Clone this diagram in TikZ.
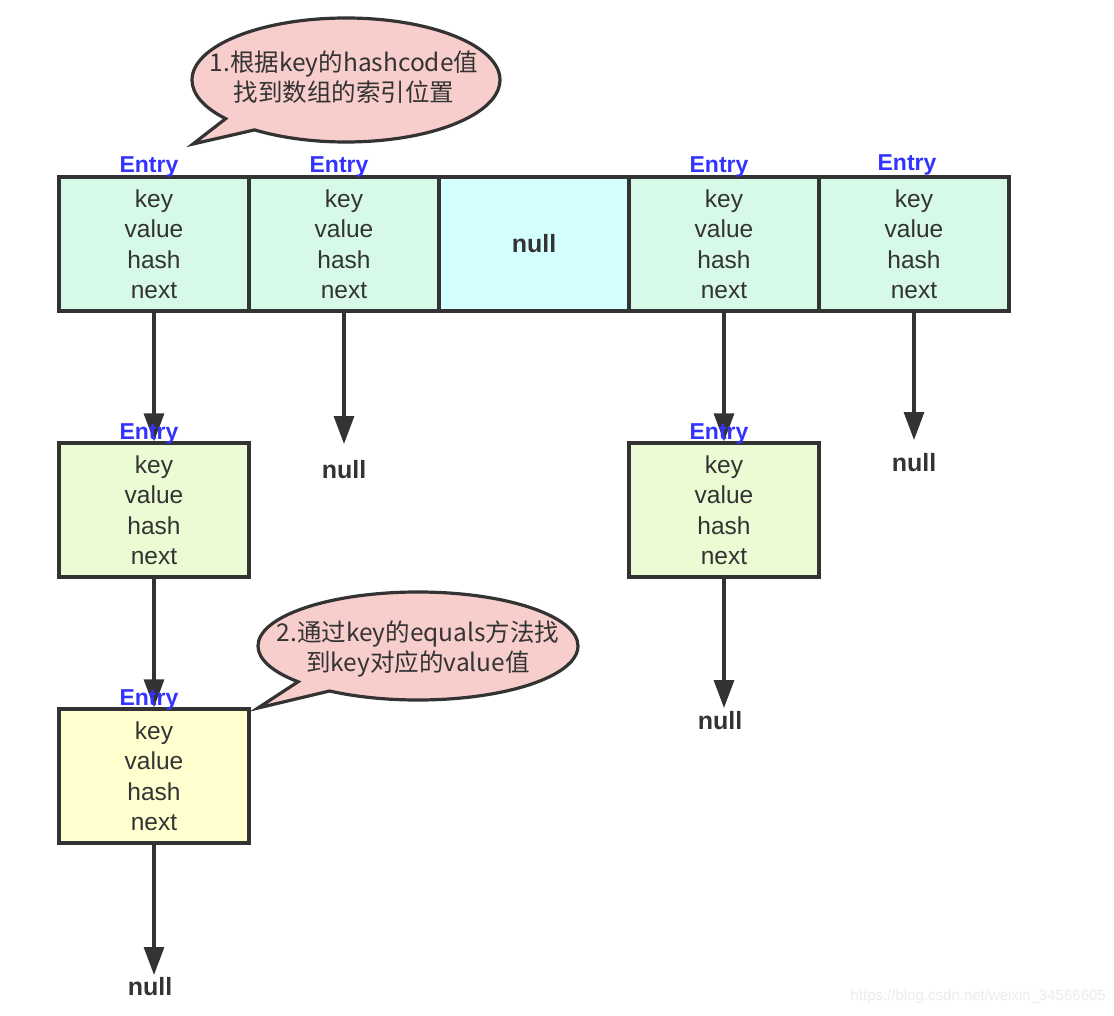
\documentclass[tikz,border=0pt]{standalone}
\usepackage{fontspec}
\setmainfont{Liberation Sans}
\newfontfamily\cjk{Noto Sans CJK SC}
\usepackage{tikz}
\usetikzlibrary{arrows.meta,shapes.callouts}

\definecolor{linegray}{HTML}{333333}
\definecolor{textgray}{HTML}{333333}
\definecolor{entryblue}{HTML}{3333FF}
\definecolor{mint}{HTML}{D6F9E8}
\definecolor{cyanish}{HTML}{D4FFFF}
\definecolor{lime}{HTML}{EBFCD4}
\definecolor{paleyellow}{HTML}{FFFFD0}
\definecolor{hintpink}{HTML}{F8CECC}
\definecolor{markgray}{HTML}{EBEBEB}

\begin{document}
\begin{tikzpicture}[x=1pt,y=-1pt,
  entrybox/.style={draw=linegray,line width=3.2pt,minimum width=190pt,minimum height=134pt,
    inner sep=0pt,align=center,text=textgray,font=\fontsize{24.5}{30.5}\selectfont},
  entrylbl/.style={anchor=base,inner sep=0pt,text=entryblue,font=\bfseries\fontsize{23}{26}\selectfont},
  nulltxt/.style={anchor=base,inner sep=0pt,text=textgray,font=\bfseries\fontsize{25}{30}\selectfont},
  arr/.style={draw=linegray,line width=3.2pt,-{Triangle[width=20pt,length=28pt]}},
  hint/.style={ellipse callout,draw=linegray,line width=3.2pt,fill=hintpink,inner sep=0pt},
  hinttxt/.style={align=center,text=textgray,font=\cjk\fontsize{24.5}{30}\selectfont}]
  \useasboundingbox (0,0) rectangle (1114,1016);

  % the table
  \node[entrybox,fill=mint] (b1) at (154,244) {key\\value\\hash\\next};
  \node[entrybox,fill=mint] (b2) at (344,244) {key\\value\\hash\\next};
  \node[entrybox,fill=cyanish,font=\bfseries\fontsize{25}{30}\selectfont] (b3) at (534,244) {null};
  \node[entrybox,fill=mint] (b4) at (724,244) {key\\value\\hash\\next};
  \node[entrybox,fill=mint] (b5) at (914,244) {key\\value\\hash\\next};

  % the chains
  \node[entrybox,fill=lime] (c1) at (154,510) {key\\value\\hash\\next};
  \node[entrybox,fill=lime] (c4) at (724,510) {key\\value\\hash\\next};
  \node[entrybox,fill=paleyellow] (d1) at (154,776) {key\\value\\hash\\next};

  \coordinate (end2) at (344,444);
  \coordinate (end5) at (914,440);
  \coordinate (end7) at (724,708);
  \coordinate (end8) at (154,975);

  \node[nulltxt] (null2) at (344,478) {null};
  \node[nulltxt] (null5) at (914,471) {null};
  \node[nulltxt] (null7) at (720,729) {null};
  \node[nulltxt] (null8) at (150,995) {null};

  \draw [arr] (b1.south) -- (c1.north);
  \draw [arr] (b2.south) -- (end2);
  \draw [arr] (b4.south) -- (c4.north);
  \draw [arr] (b5.south) -- (end5);
  \draw [arr] (c1.south) -- (d1.north);
  \draw [arr] (c4.south) -- (end7);
  \draw [arr] (d1.south) -- (end8);

  \node[entrylbl] (lbl1) at (149,173) {Entry};
  \node[entrylbl] (lbl2) at (339,173) {Entry};
  \node[entrylbl] (lbl4) at (719,173) {Entry};
  \node[entrylbl] (lbl5) at (907,171) {Entry};
  \node[entrylbl] (lbl6) at (149,439) {Entry};
  \node[entrylbl] (lbl7) at (719,439) {Entry};
  \node[entrylbl] (lbl8) at (149,705) {Entry};

  % the two hints
  \node[hint,minimum width=308pt,minimum height=124pt,callout absolute pointer={(193,144)}] (hint1) at (346,80) {};
  \node[hinttxt] (hint1txt) at (344,77) {1.根据key的hashcode值\\找到数组的索引位置};

  \node[hint,minimum width=320pt,minimum height=108pt,callout absolute pointer={(258,708)}] (hint2) at (418,646) {};
  \node[hinttxt] (hint2txt) at (418,649) {2.通过key的equals方法找\\到key对应的value值};

  \node[anchor=east,inner sep=0pt,text=markgray,font=\fontsize{15}{18}\selectfont] (mark) at (1106,997) {https://blog.csdn.net/weixin\_34566605};
\end{tikzpicture}
\end{document}
